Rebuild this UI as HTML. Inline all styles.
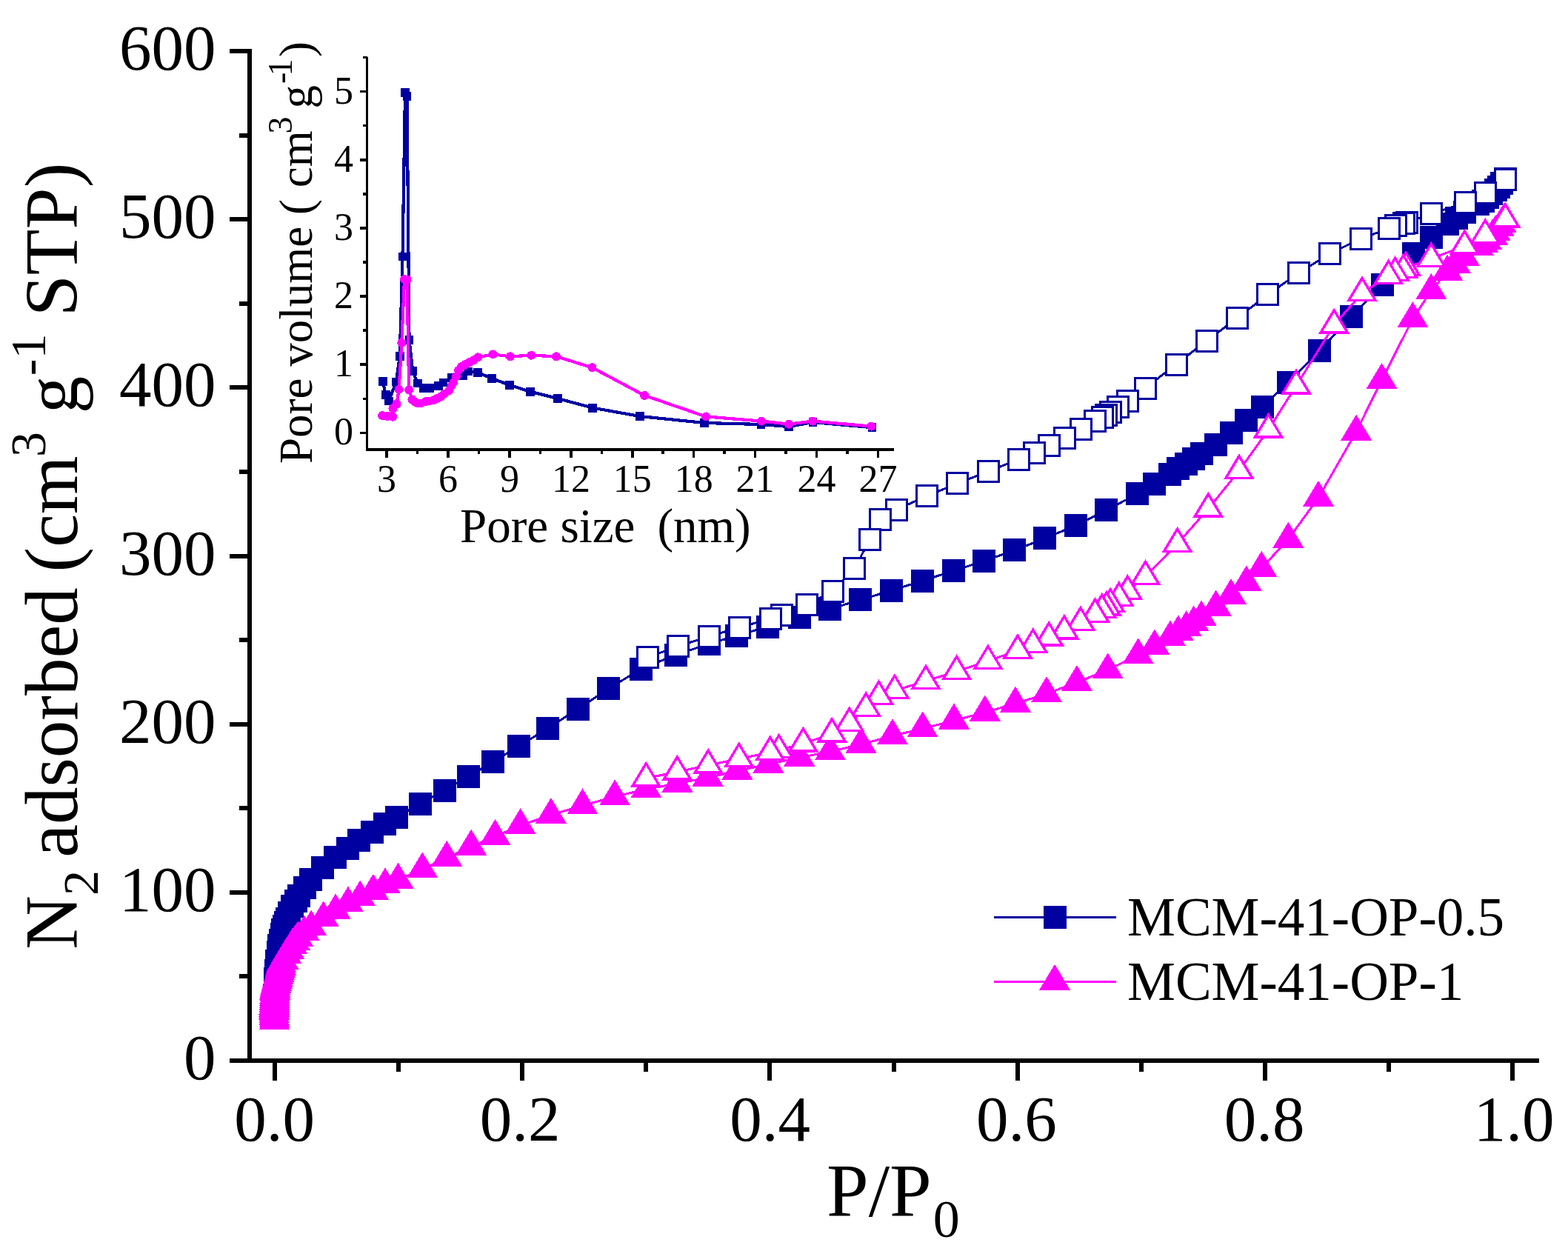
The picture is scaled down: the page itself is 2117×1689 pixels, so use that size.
<!DOCTYPE html>
<html><head><meta charset="utf-8"><title>N2 adsorption isotherms</title>
<style>html,body{margin:0;padding:0;background:#fff;}svg{display:block;}</style></head>
<body><svg width="2117" height="1689" viewBox="0 0 2117 1689" shape-rendering="crispEdges">
<rect width="2117" height="1689" fill="#fff"/>
<g stroke="#000" stroke-width="6" fill="none" stroke-linecap="butt">
<path d="M337 66V1435M334 1432H2078"/>
<path d="M310 1432H337"/>
<path d="M310 1204.8H337"/>
<path d="M310 977.7H337"/>
<path d="M310 750.5H337"/>
<path d="M310 523.3H337"/>
<path d="M310 296.1H337"/>
<path d="M310 69H337"/>
<path d="M323 1318.4H337"/>
<path d="M323 1091.2H337"/>
<path d="M323 864.1H337"/>
<path d="M323 636.9H337"/>
<path d="M323 409.7H337"/>
<path d="M323 182.6H337"/>
<path d="M371 1432V1459"/>
<path d="M538.1 1432V1447"/>
<path d="M705.2 1432V1459"/>
<path d="M872.3 1432V1447"/>
<path d="M1039.4 1432V1459"/>
<path d="M1206.5 1432V1447"/>
<path d="M1373.6 1432V1459"/>
<path d="M1540.7 1432V1447"/>
<path d="M1707.8 1432V1459"/>
<path d="M1874.9 1432V1447"/>
<path d="M2042 1432V1459"/>
</g>
<g font-family="'Liberation Serif','Times New Roman',serif" font-size="87" fill="#000">
<text x="291.5" y="1457" text-anchor="end">0</text>
<text x="291.5" y="1229.8" text-anchor="end">100</text>
<text x="291.5" y="1002.7" text-anchor="end">200</text>
<text x="291.5" y="775.5" text-anchor="end">300</text>
<text x="291.5" y="548.3" text-anchor="end">400</text>
<text x="291.5" y="321.1" text-anchor="end">500</text>
<text x="291.5" y="94" text-anchor="end">600</text>
<text x="370.5" y="1540" text-anchor="middle">0.0</text>
<text x="702" y="1540" text-anchor="middle">0.2</text>
<text x="1039.7" y="1540" text-anchor="middle">0.4</text>
<text x="1372.3" y="1540" text-anchor="middle">0.6</text>
<text x="1707" y="1540" text-anchor="middle">0.8</text>
<text x="2044" y="1540" text-anchor="middle">1.0</text>
</g>
<text font-family="'Liberation Serif','Times New Roman',serif" font-size="101" transform="translate(104 1282) rotate(-90)"><tspan x="0" y="0">N</tspan><tspan x="73" y="28" font-size="68">2</tspan><tspan x="124.2" y="0">adsorbed</tspan><tspan x="509.5" y="0">(cm</tspan><tspan x="665.1" y="-43" font-size="68">3</tspan><tspan x="723.8" y="0">g</tspan><tspan x="774.8" y="-43" font-size="68">-1</tspan><tspan x="854.7" y="0">STP)</tspan></text>
<text font-family="'Liberation Serif','Times New Roman',serif" font-size="102" x="1116" y="1642">P/P<tspan font-size="72" dx="2" dy="28">0</tspan></text>
<g stroke="#000" stroke-width="3.5" fill="none">
<path d="M495.5 77V608.7M493.8 607H1206.5"/>
<path d="M485.5 584.4H495.5"/>
<path d="M485.5 492.2H495.5"/>
<path d="M485.5 400.1H495.5"/>
<path d="M485.5 307.9H495.5"/>
<path d="M485.5 215.8H495.5"/>
<path d="M485.5 123.6H495.5"/>
<path d="M489.8 538.3H495.5"/>
<path d="M489.8 446.2H495.5"/>
<path d="M489.8 354H495.5"/>
<path d="M489.8 261.9H495.5"/>
<path d="M489.8 169.7H495.5"/>
<path d="M489.8 77.6H495.5"/>
<path d="M522.1 607V617.6"/>
<path d="M605 607V617.6"/>
<path d="M687.9 607V617.6"/>
<path d="M770.9 607V617.6"/>
<path d="M853.8 607V617.6"/>
<path d="M936.7 607V617.6"/>
<path d="M1019.6 607V617.6"/>
<path d="M1102.5 607V617.6"/>
<path d="M1185.5 607V617.6"/>
<path d="M563.6 607V612.5"/>
<path d="M646.5 607V612.5"/>
<path d="M729.4 607V612.5"/>
<path d="M812.3 607V612.5"/>
<path d="M895.2 607V612.5"/>
<path d="M978.2 607V612.5"/>
<path d="M1061.1 607V612.5"/>
<path d="M1144 607V612.5"/>
</g>
<g font-family="'Liberation Serif','Times New Roman',serif" font-size="52" fill="#000">
<text x="477" y="600.4" text-anchor="end">0</text>
<text x="477" y="508.2" text-anchor="end">1</text>
<text x="477" y="416.1" text-anchor="end">2</text>
<text x="477" y="323.9" text-anchor="end">3</text>
<text x="477" y="231.8" text-anchor="end">4</text>
<text x="477" y="139.6" text-anchor="end">5</text>
<text x="522.1" y="664" text-anchor="middle">3</text>
<text x="605" y="664" text-anchor="middle">6</text>
<text x="687.9" y="664" text-anchor="middle">9</text>
<text x="770.9" y="664" text-anchor="middle">12</text>
<text x="853.8" y="664" text-anchor="middle">15</text>
<text x="936.7" y="664" text-anchor="middle">18</text>
<text x="1019.6" y="664" text-anchor="middle">21</text>
<text x="1102.5" y="664" text-anchor="middle">24</text>
<text x="1185.5" y="664" text-anchor="middle">27</text>
</g>
<text font-family="'Liberation Serif','Times New Roman',serif" font-size="65" y="732" xml:space="preserve"><tspan x="621">Pore size</tspan><tspan x="887.4">(nm)</tspan></text>
<text font-family="'Liberation Serif','Times New Roman',serif" font-size="63" transform="translate(421 626) rotate(-90)" xml:space="preserve"><tspan x="0" y="0">Pore volume ( cm</tspan><tspan x="445.4" y="-27" font-size="46">3</tspan><tspan x="479.6" y="0">g</tspan><tspan x="513" y="-27" font-size="46">-</tspan><tspan x="523.4" y="-27" font-size="46">1</tspan><tspan x="548.9" y="0">)</tspan></text>
<path d="M516.9 515 L520.7 532.9 L525 541.5 L534.8 515.5 L539.8 481.2 L543.5 346.5 L547 125 L549.5 130.2 L552.5 459 L557.1 500.8 L563.8 517.5 L571.7 523.7 L580 524 L591.9 520.7 L598.4 516.4 L609.7 509.9 L624.8 507 L631.8 501.4 L644.6 502.7 L664.2 510.9 L687.9 519.9 L716.1 528.8 L753 538 L800 550.6 L863.9 562 L951.2 571 L1027.5 573 L1064.7 576 L1097.5 570 L1177.5 577.2" fill="none" stroke="#0000A0" stroke-width="4.2" stroke-linejoin="round"/>
<rect x="511" y="509.1" width="11.8" height="11.8" fill="#0000A0"/>
<rect x="514.8" y="527" width="11.8" height="11.8" fill="#0000A0"/>
<rect x="519.1" y="535.6" width="11.8" height="11.8" fill="#0000A0"/>
<rect x="528.9" y="509.6" width="11.8" height="11.8" fill="#0000A0"/>
<rect x="533.9" y="475.3" width="11.8" height="11.8" fill="#0000A0"/>
<rect x="537.6" y="340.6" width="11.8" height="11.8" fill="#0000A0"/>
<rect x="541.1" y="119.1" width="11.8" height="11.8" fill="#0000A0"/>
<rect x="543.6" y="124.3" width="11.8" height="11.8" fill="#0000A0"/>
<rect x="546.6" y="453.1" width="11.8" height="11.8" fill="#0000A0"/>
<rect x="551.2" y="494.9" width="11.8" height="11.8" fill="#0000A0"/>
<rect x="557.9" y="511.6" width="11.8" height="11.8" fill="#0000A0"/>
<rect x="565.8" y="517.8" width="11.8" height="11.8" fill="#0000A0"/>
<rect x="574.1" y="518.1" width="11.8" height="11.8" fill="#0000A0"/>
<rect x="586" y="514.8" width="11.8" height="11.8" fill="#0000A0"/>
<rect x="592.5" y="510.5" width="11.8" height="11.8" fill="#0000A0"/>
<rect x="603.8" y="504" width="11.8" height="11.8" fill="#0000A0"/>
<rect x="618.9" y="501.1" width="11.8" height="11.8" fill="#0000A0"/>
<rect x="625.9" y="495.5" width="11.8" height="11.8" fill="#0000A0"/>
<rect x="638.7" y="496.8" width="11.8" height="11.8" fill="#0000A0"/>
<rect x="658.3" y="505" width="11.8" height="11.8" fill="#0000A0"/>
<rect x="682" y="514" width="11.8" height="11.8" fill="#0000A0"/>
<rect x="710.2" y="522.9" width="11.8" height="11.8" fill="#0000A0"/>
<rect x="747.1" y="532.1" width="11.8" height="11.8" fill="#0000A0"/>
<rect x="794.1" y="544.7" width="11.8" height="11.8" fill="#0000A0"/>
<rect x="858" y="556.1" width="11.8" height="11.8" fill="#0000A0"/>
<rect x="945.3" y="565.1" width="11.8" height="11.8" fill="#0000A0"/>
<rect x="1021.6" y="567.1" width="11.8" height="11.8" fill="#0000A0"/>
<rect x="1058.8" y="570.1" width="11.8" height="11.8" fill="#0000A0"/>
<rect x="1091.6" y="564.1" width="11.8" height="11.8" fill="#0000A0"/>
<rect x="1171.6" y="571.3" width="11.8" height="11.8" fill="#0000A0"/>
<path d="M516.2 561.1 L523.2 561.9 L530.3 562.7 L530.5 551.5 L535.5 545.5 L538.6 525.8 L542.3 462.8 L546 377 L549.5 377.5 L552.2 526.2 L556.4 539.5 L560 542.5 L563.8 544.5 L568 544.5 L574.3 542.2 L579 541.5 L585.3 540.3 L590 538 L595.1 535.7 L600 531.5 L606.2 527.2 L609.5 521 L612.5 516 L616 508 L619 500 L623 495 L628.3 492 L634 489 L640 486 L645.3 482.3 L665.5 478.4 L688.9 481.3 L717.4 479.7 L751 481.3 L799.4 496.2 L870.1 533.9 L953.1 562.4 L1028.1 568.6 L1064.9 572.6 L1097.3 568.6 L1176.3 575.6" fill="none" stroke="#FF00FF" stroke-width="4.2" stroke-linejoin="round"/>
<circle cx="516.2" cy="561.1" r="6" fill="#FF00FF"/>
<circle cx="523.2" cy="561.9" r="6" fill="#FF00FF"/>
<circle cx="530.3" cy="562.7" r="6" fill="#FF00FF"/>
<circle cx="530.5" cy="551.5" r="6" fill="#FF00FF"/>
<circle cx="535.5" cy="545.5" r="6" fill="#FF00FF"/>
<circle cx="538.6" cy="525.8" r="6" fill="#FF00FF"/>
<circle cx="542.3" cy="462.8" r="6" fill="#FF00FF"/>
<circle cx="546" cy="377" r="6" fill="#FF00FF"/>
<circle cx="549.5" cy="377.5" r="6" fill="#FF00FF"/>
<circle cx="552.2" cy="526.2" r="6" fill="#FF00FF"/>
<circle cx="556.4" cy="539.5" r="6" fill="#FF00FF"/>
<circle cx="560" cy="542.5" r="6" fill="#FF00FF"/>
<circle cx="563.8" cy="544.5" r="6" fill="#FF00FF"/>
<circle cx="568" cy="544.5" r="6" fill="#FF00FF"/>
<circle cx="574.3" cy="542.2" r="6" fill="#FF00FF"/>
<circle cx="579" cy="541.5" r="6" fill="#FF00FF"/>
<circle cx="585.3" cy="540.3" r="6" fill="#FF00FF"/>
<circle cx="590" cy="538" r="6" fill="#FF00FF"/>
<circle cx="595.1" cy="535.7" r="6" fill="#FF00FF"/>
<circle cx="600" cy="531.5" r="6" fill="#FF00FF"/>
<circle cx="606.2" cy="527.2" r="6" fill="#FF00FF"/>
<circle cx="609.5" cy="521" r="6" fill="#FF00FF"/>
<circle cx="612.5" cy="516" r="6" fill="#FF00FF"/>
<circle cx="616" cy="508" r="6" fill="#FF00FF"/>
<circle cx="619" cy="500" r="6" fill="#FF00FF"/>
<circle cx="623" cy="495" r="6" fill="#FF00FF"/>
<circle cx="628.3" cy="492" r="6" fill="#FF00FF"/>
<circle cx="634" cy="489" r="6" fill="#FF00FF"/>
<circle cx="640" cy="486" r="6" fill="#FF00FF"/>
<circle cx="645.3" cy="482.3" r="6" fill="#FF00FF"/>
<circle cx="665.5" cy="478.4" r="6" fill="#FF00FF"/>
<circle cx="688.9" cy="481.3" r="6" fill="#FF00FF"/>
<circle cx="717.4" cy="479.7" r="6" fill="#FF00FF"/>
<circle cx="751" cy="481.3" r="6" fill="#FF00FF"/>
<circle cx="799.4" cy="496.2" r="6" fill="#FF00FF"/>
<circle cx="870.1" cy="533.9" r="6" fill="#FF00FF"/>
<circle cx="953.1" cy="562.4" r="6" fill="#FF00FF"/>
<circle cx="1028.1" cy="568.6" r="6" fill="#FF00FF"/>
<circle cx="1064.9" cy="572.6" r="6" fill="#FF00FF"/>
<circle cx="1097.3" cy="568.6" r="6" fill="#FF00FF"/>
<circle cx="1176.3" cy="575.6" r="6" fill="#FF00FF"/>
<path d="M370 1372 L370 1358 L370 1343 L371 1321 L372 1310 L373 1297 L375 1285 L376 1276 L378 1269 L380 1261 L381 1255.5 L383 1250 L385 1245 L387 1240 L390 1232 L394 1223 L399 1216 L403 1209 L411 1198 L419.6 1187.6 L435.7 1171.6 L452.3 1157.7 L469.4 1145.4 L484.6 1134.4 L502.5 1123 L519.4 1112.4 L535.6 1103 L567 1085 L600.4 1067 L632.9 1048.3 L665.8 1028.3 L700 1007.9 L739.3 983.3 L780.4 957.2 L821.9 929.4 L865.9 903.1 L912 884.3 L957.4 869.3 L994.1 858.4 L1036 846.3 L1079 833.4 L1120 822.3 L1161.6 809.9 L1203.6 797.2 L1245 784.3 L1287 770.8 L1328.6 757.4 L1369.9 742.9 L1410.9 726.8 L1452.9 709.2 L1493.5 688.8 L1535.5 666.9 L1558.2 653.5 L1579.6 640.5 L1590.6 632.9 L1601.3 626.4 L1611.6 619.5 L1622 612.6 L1641 600 L1662 584.5 L1682.4 567.2 L1704 549.5 L1739.6 516.4 L1781.4 473.5 L1824.4 427.7 L1866.5 384.3 L1908.6 342.8 L1932.3 320.3 L1954.5 302.1 L1966.7 294.4 L1977.3 286.7 L1995.7 275 L2002.1 271.2 L2008 266.4 L2013.3 261.6 L2019.6 256.8 L2023.4 252.4 L2027.7 247.2 L2032 241.9" fill="none" stroke="#0000A0" stroke-width="3" stroke-linejoin="round"/>
<g fill="#0000A0" stroke="#0000A0" stroke-width="3"><rect x="356" y="1358" width="28" height="28"/><rect x="356" y="1344" width="28" height="28"/><rect x="356" y="1329" width="28" height="28"/><rect x="357" y="1307" width="28" height="28"/><rect x="358" y="1296" width="28" height="28"/><rect x="359" y="1283" width="28" height="28"/><rect x="361" y="1271" width="28" height="28"/><rect x="362" y="1262" width="28" height="28"/><rect x="364" y="1255" width="28" height="28"/><rect x="366" y="1247" width="28" height="28"/><rect x="367" y="1241.5" width="28" height="28"/><rect x="369" y="1236" width="28" height="28"/><rect x="371" y="1231" width="28" height="28"/><rect x="373" y="1226" width="28" height="28"/><rect x="376" y="1218" width="28" height="28"/><rect x="380" y="1209" width="28" height="28"/><rect x="385" y="1202" width="28" height="28"/><rect x="389" y="1195" width="28" height="28"/><rect x="397" y="1184" width="28" height="28"/><rect x="405.6" y="1173.6" width="28" height="28"/><rect x="421.7" y="1157.6" width="28" height="28"/><rect x="438.3" y="1143.7" width="28" height="28"/><rect x="455.4" y="1131.4" width="28" height="28"/><rect x="470.6" y="1120.4" width="28" height="28"/><rect x="488.5" y="1109" width="28" height="28"/><rect x="505.4" y="1098.4" width="28" height="28"/><rect x="521.6" y="1089" width="28" height="28"/><rect x="553" y="1071" width="28" height="28"/><rect x="586.4" y="1053" width="28" height="28"/><rect x="618.9" y="1034.3" width="28" height="28"/><rect x="651.8" y="1014.3" width="28" height="28"/><rect x="686" y="993.9" width="28" height="28"/><rect x="725.3" y="969.3" width="28" height="28"/><rect x="766.4" y="943.2" width="28" height="28"/><rect x="807.9" y="915.4" width="28" height="28"/><rect x="851.9" y="889.1" width="28" height="28"/><rect x="898" y="870.3" width="28" height="28"/><rect x="943.4" y="855.3" width="28" height="28"/><rect x="980.1" y="844.4" width="28" height="28"/><rect x="1022" y="832.3" width="28" height="28"/><rect x="1065" y="819.4" width="28" height="28"/><rect x="1106" y="808.3" width="28" height="28"/><rect x="1147.6" y="795.9" width="28" height="28"/><rect x="1189.6" y="783.2" width="28" height="28"/><rect x="1231" y="770.3" width="28" height="28"/><rect x="1273" y="756.8" width="28" height="28"/><rect x="1314.6" y="743.4" width="28" height="28"/><rect x="1355.9" y="728.9" width="28" height="28"/><rect x="1396.9" y="712.8" width="28" height="28"/><rect x="1438.9" y="695.2" width="28" height="28"/><rect x="1479.5" y="674.8" width="28" height="28"/><rect x="1521.5" y="652.9" width="28" height="28"/><rect x="1544.2" y="639.5" width="28" height="28"/><rect x="1565.6" y="626.5" width="28" height="28"/><rect x="1576.6" y="618.9" width="28" height="28"/><rect x="1587.3" y="612.4" width="28" height="28"/><rect x="1597.6" y="605.5" width="28" height="28"/><rect x="1608" y="598.6" width="28" height="28"/><rect x="1627" y="586" width="28" height="28"/><rect x="1648" y="570.5" width="28" height="28"/><rect x="1668.4" y="553.2" width="28" height="28"/><rect x="1690" y="535.5" width="28" height="28"/><rect x="1725.6" y="502.4" width="28" height="28"/><rect x="1767.4" y="459.5" width="28" height="28"/><rect x="1810.4" y="413.7" width="28" height="28"/><rect x="1852.5" y="370.3" width="28" height="28"/><rect x="1894.6" y="328.8" width="28" height="28"/><rect x="1918.3" y="306.3" width="28" height="28"/><rect x="1940.5" y="288.1" width="28" height="28"/><rect x="1952.7" y="280.4" width="28" height="28"/><rect x="1963.3" y="272.7" width="28" height="28"/><rect x="1981.7" y="261" width="28" height="28"/><rect x="1988.1" y="257.2" width="28" height="28"/><rect x="1994" y="252.4" width="28" height="28"/><rect x="1999.3" y="247.6" width="28" height="28"/><rect x="2005.6" y="242.8" width="28" height="28"/><rect x="2009.4" y="238.4" width="28" height="28"/><rect x="2013.7" y="233.2" width="28" height="28"/><rect x="2018" y="227.9" width="28" height="28"/></g>
<path d="M2032.6 242.2 L2005.5 260.1 L1978.4 273.7 L1932.5 288.8 L1899.2 300 L1895.3 301.6 L1884.3 304.9 L1875.4 308.4 L1837.4 322.1 L1795.9 342.3 L1753.4 368.5 L1711.9 397.7 L1670.3 429.5 L1629.2 460 L1588 492 L1546 524 L1522 541 L1509.9 549.5 L1499.5 556 L1493.5 560 L1488.2 563 L1478.6 568.1 L1459.3 579.9 L1437.3 591.4 L1416.9 601.4 L1396.2 611.2 L1375.4 620 L1334.9 636.3 L1292.4 652.7 L1251 669.9 L1210 688.2 L1188 701.8 L1174.3 728.4 L1153.9 767.4 L1124 798.2 L1089 816.7 L1055 830.2 L1040.3 835 L998.9 847.2 L957.4 859.1 L915.8 872.4 L874.4 887.4" fill="none" stroke="#0000A0" stroke-width="3" stroke-linejoin="round"/>
<g fill="#fff" stroke="#0000A0" stroke-width="3"><rect x="2018.6" y="228.2" width="28" height="28"/><rect x="1991.5" y="246.1" width="28" height="28"/><rect x="1964.4" y="259.7" width="28" height="28"/><rect x="1918.5" y="274.8" width="28" height="28"/><rect x="1885.2" y="286" width="28" height="28"/><rect x="1881.3" y="287.6" width="28" height="28"/><rect x="1870.3" y="290.9" width="28" height="28"/><rect x="1861.4" y="294.4" width="28" height="28"/><rect x="1823.4" y="308.1" width="28" height="28"/><rect x="1781.9" y="328.3" width="28" height="28"/><rect x="1739.4" y="354.5" width="28" height="28"/><rect x="1697.9" y="383.7" width="28" height="28"/><rect x="1656.3" y="415.5" width="28" height="28"/><rect x="1615.2" y="446" width="28" height="28"/><rect x="1574" y="478" width="28" height="28"/><rect x="1532" y="510" width="28" height="28"/><rect x="1508" y="527" width="28" height="28"/><rect x="1495.9" y="535.5" width="28" height="28"/><rect x="1485.5" y="542" width="28" height="28"/><rect x="1479.5" y="546" width="28" height="28"/><rect x="1474.2" y="549" width="28" height="28"/><rect x="1464.6" y="554.1" width="28" height="28"/><rect x="1445.3" y="565.9" width="28" height="28"/><rect x="1423.3" y="577.4" width="28" height="28"/><rect x="1402.9" y="587.4" width="28" height="28"/><rect x="1382.2" y="597.2" width="28" height="28"/><rect x="1361.4" y="606" width="28" height="28"/><rect x="1320.9" y="622.3" width="28" height="28"/><rect x="1278.4" y="638.7" width="28" height="28"/><rect x="1237" y="655.9" width="28" height="28"/><rect x="1196" y="674.2" width="28" height="28"/><rect x="1174" y="687.8" width="28" height="28"/><rect x="1160.3" y="714.4" width="28" height="28"/><rect x="1139.9" y="753.4" width="28" height="28"/><rect x="1110" y="784.2" width="28" height="28"/><rect x="1075" y="802.7" width="28" height="28"/><rect x="1041" y="816.2" width="28" height="28"/><rect x="1026.3" y="821" width="28" height="28"/><rect x="984.9" y="833.2" width="28" height="28"/><rect x="943.4" y="845.1" width="28" height="28"/><rect x="901.8" y="858.4" width="28" height="28"/><rect x="860.4" y="873.4" width="28" height="28"/></g>
<path d="M370.5 1378.7 L370.4 1375.7 L370.2 1372.7 L370.1 1369.7 L370 1366.7 L370.1 1363.8 L370.2 1360.9 L370.3 1358.1 L370.4 1355.2 L370.5 1352.3 L370.6 1349.4 L370.8 1346.5 L370.9 1343.6 L371 1340.7 L371.2 1337.9 L371.5 1335.2 L371.7 1332.4 L372.6 1329.5 L373.4 1326.6 L374.3 1323.7 L375 1320.5 L375.6 1317.4 L376.6 1314.5 L377.6 1311.7 L378.2 1308.4 L378.9 1305 L379.5 1301.7 L382.8 1297.7 L386.4 1289.4 L390.6 1283.7 L394.5 1276.7 L398.4 1271.7 L402.3 1266.7 L410.8 1258.7 L420.2 1251.7 L436.7 1239.7 L453 1229.7 L470 1219.7 L486.2 1211.7 L504 1203 L520 1194.7 L537.5 1188 L570.3 1173.5 L603.2 1158.2 L636.2 1143 L668.5 1129.2 L702.6 1114.5 L743.9 1100.3 L786.5 1087.6 L830.1 1075.6 L872.4 1065.5 L914.4 1057.8 L955.7 1049.8 L995.4 1040.8 L1037.4 1031.9 L1079.3 1022.8 L1120.9 1014.7 L1162.5 1005 L1205 993.5 L1245.7 983.7 L1288 972.9 L1329.8 961.8 L1370.9 950 L1413 936.6 L1453.9 921.4 L1495.7 904.5 L1536.7 884.5 L1558.8 872.7 L1580.1 860.5 L1590.9 853.7 L1601.6 847.5 L1611.6 840.7 L1622 833.7 L1641.6 819.8 L1662 804.4 L1682.9 786.7 L1703.2 767.1 L1739.3 728.1 L1780 672.1 L1831.1 583 L1865.5 513.3 L1907.4 430.4 L1932.3 392.4 L1954.1 367 L1964.7 357 L1976.7 347 L1995.9 333.4 L2001.9 328.8 L2006.9 324.8 L2015 318.8 L2019 313.7 L2024 307.7 L2027 302.7 L2031 296.7" fill="none" stroke="#FF00FF" stroke-width="3" stroke-linejoin="round"/>
<g fill="#FF00FF" stroke="#FF00FF" stroke-width="3.4" stroke-linejoin="miter"><path d="M370.5 1358.7L388.5 1388.7H352.5Z"/><path d="M370.4 1355.7L388.4 1385.7H352.4Z"/><path d="M370.2 1352.7L388.2 1382.7H352.2Z"/><path d="M370.1 1349.7L388.1 1379.7H352.1Z"/><path d="M370 1346.7L388 1376.7H352Z"/><path d="M370.1 1343.8L388.1 1373.8H352.1Z"/><path d="M370.2 1340.9L388.2 1370.9H352.2Z"/><path d="M370.3 1338.1L388.3 1368.1H352.3Z"/><path d="M370.4 1335.2L388.4 1365.2H352.4Z"/><path d="M370.5 1332.3L388.5 1362.3H352.5Z"/><path d="M370.6 1329.4L388.6 1359.4H352.6Z"/><path d="M370.8 1326.5L388.8 1356.5H352.8Z"/><path d="M370.9 1323.6L388.9 1353.6H352.9Z"/><path d="M371 1320.7L389 1350.7H353Z"/><path d="M371.2 1317.9L389.2 1347.9H353.2Z"/><path d="M371.5 1315.2L389.5 1345.2H353.5Z"/><path d="M371.7 1312.4L389.7 1342.4H353.7Z"/><path d="M372.6 1309.5L390.6 1339.5H354.6Z"/><path d="M373.4 1306.6L391.4 1336.6H355.4Z"/><path d="M374.3 1303.7L392.3 1333.7H356.3Z"/><path d="M375 1300.5L393 1330.5H357Z"/><path d="M375.6 1297.4L393.6 1327.4H357.6Z"/><path d="M376.6 1294.5L394.6 1324.5H358.6Z"/><path d="M377.6 1291.7L395.6 1321.7H359.6Z"/><path d="M378.2 1288.4L396.2 1318.4H360.2Z"/><path d="M378.9 1285L396.9 1315H360.9Z"/><path d="M379.5 1281.7L397.5 1311.7H361.5Z"/><path d="M382.8 1277.7L400.8 1307.7H364.8Z"/><path d="M386.4 1269.4L404.4 1299.4H368.4Z"/><path d="M390.6 1263.7L408.6 1293.7H372.6Z"/><path d="M394.5 1256.7L412.5 1286.7H376.5Z"/><path d="M398.4 1251.7L416.4 1281.7H380.4Z"/><path d="M402.3 1246.7L420.3 1276.7H384.3Z"/><path d="M410.8 1238.7L428.8 1268.7H392.8Z"/><path d="M420.2 1231.7L438.2 1261.7H402.2Z"/><path d="M436.7 1219.7L454.7 1249.7H418.7Z"/><path d="M453 1209.7L471 1239.7H435Z"/><path d="M470 1199.7L488 1229.7H452Z"/><path d="M486.2 1191.7L504.2 1221.7H468.2Z"/><path d="M504 1183L522 1213H486Z"/><path d="M520 1174.7L538 1204.7H502Z"/><path d="M537.5 1168L555.5 1198H519.5Z"/><path d="M570.3 1153.5L588.3 1183.5H552.3Z"/><path d="M603.2 1138.2L621.2 1168.2H585.2Z"/><path d="M636.2 1123L654.2 1153H618.2Z"/><path d="M668.5 1109.2L686.5 1139.2H650.5Z"/><path d="M702.6 1094.5L720.6 1124.5H684.6Z"/><path d="M743.9 1080.3L761.9 1110.3H725.9Z"/><path d="M786.5 1067.6L804.5 1097.6H768.5Z"/><path d="M830.1 1055.6L848.1 1085.6H812.1Z"/><path d="M872.4 1045.5L890.4 1075.5H854.4Z"/><path d="M914.4 1037.8L932.4 1067.8H896.4Z"/><path d="M955.7 1029.8L973.7 1059.8H937.7Z"/><path d="M995.4 1020.8L1013.4 1050.8H977.4Z"/><path d="M1037.4 1011.9L1055.4 1041.9H1019.4Z"/><path d="M1079.3 1002.8L1097.3 1032.8H1061.3Z"/><path d="M1120.9 994.7L1138.9 1024.7H1102.9Z"/><path d="M1162.5 985L1180.5 1015H1144.5Z"/><path d="M1205 973.5L1223 1003.5H1187Z"/><path d="M1245.7 963.7L1263.7 993.7H1227.7Z"/><path d="M1288 952.9L1306 982.9H1270Z"/><path d="M1329.8 941.8L1347.8 971.8H1311.8Z"/><path d="M1370.9 930L1388.9 960H1352.9Z"/><path d="M1413 916.6L1431 946.6H1395Z"/><path d="M1453.9 901.4L1471.9 931.4H1435.9Z"/><path d="M1495.7 884.5L1513.7 914.5H1477.7Z"/><path d="M1536.7 864.5L1554.7 894.5H1518.7Z"/><path d="M1558.8 852.7L1576.8 882.7H1540.8Z"/><path d="M1580.1 840.5L1598.1 870.5H1562.1Z"/><path d="M1590.9 833.7L1608.9 863.7H1572.9Z"/><path d="M1601.6 827.5L1619.6 857.5H1583.6Z"/><path d="M1611.6 820.7L1629.6 850.7H1593.6Z"/><path d="M1622 813.7L1640 843.7H1604Z"/><path d="M1641.6 799.8L1659.6 829.8H1623.6Z"/><path d="M1662 784.4L1680 814.4H1644Z"/><path d="M1682.9 766.7L1700.9 796.7H1664.9Z"/><path d="M1703.2 747.1L1721.2 777.1H1685.2Z"/><path d="M1739.3 708.1L1757.3 738.1H1721.3Z"/><path d="M1780 652.1L1798 682.1H1762Z"/><path d="M1831.1 563L1849.1 593H1813.1Z"/><path d="M1865.5 493.3L1883.5 523.3H1847.5Z"/><path d="M1907.4 410.4L1925.4 440.4H1889.4Z"/><path d="M1932.3 372.4L1950.3 402.4H1914.3Z"/><path d="M1954.1 347L1972.1 377H1936.1Z"/><path d="M1964.7 337L1982.7 367H1946.7Z"/><path d="M1976.7 327L1994.7 357H1958.7Z"/><path d="M1995.9 313.4L2013.9 343.4H1977.9Z"/><path d="M2001.9 308.8L2019.9 338.8H1983.9Z"/><path d="M2006.9 304.8L2024.9 334.8H1988.9Z"/><path d="M2015 298.8L2033 328.8H1997Z"/><path d="M2019 293.7L2037 323.7H2001Z"/><path d="M2024 287.7L2042 317.7H2006Z"/><path d="M2027 282.7L2045 312.7H2009Z"/><path d="M2031 276.7L2049 306.7H2013Z"/></g>
<path d="M2032.5 296.1 L2005.3 317.2 L1977.4 332.1 L1932.3 349.2 L1898.2 361.5 L1894.7 364.6 L1883.6 368.6 L1874.6 372.6 L1839 395.6 L1801.2 438.8 L1750 520.9 L1712.6 580 L1672.9 635.7 L1631.3 687 L1589.6 734.2 L1546.5 778.3 L1522.4 798.3 L1510.8 807.3 L1499.3 815.7 L1493.9 819.9 L1487.7 823.4 L1478.5 829.4 L1458.9 840.6 L1436.9 852.1 L1416.2 861.1 L1394.7 870.2 L1374 878.2 L1333.9 892.5 L1291.6 906.4 L1250 919.5 L1208 932.3 L1186.5 940.4 L1169.2 956.2 L1146.8 976.5 L1123.2 990.9 L1084.4 1003.8 L1051.6 1012.7 L1039.8 1015.6 L997.8 1024.6 L956.2 1033.1 L914.3 1042.1 L872.3 1050.8" fill="none" stroke="#FF00FF" stroke-width="3" stroke-linejoin="round"/>
<g fill="#fff" stroke="#FF00FF" stroke-width="3.4" stroke-linejoin="miter"><path d="M2032.5 276.1L2050.5 306.1H2014.5Z"/><path d="M2005.3 297.2L2023.3 327.2H1987.3Z"/><path d="M1977.4 312.1L1995.4 342.1H1959.4Z"/><path d="M1932.3 329.2L1950.3 359.2H1914.3Z"/><path d="M1898.2 341.5L1916.2 371.5H1880.2Z"/><path d="M1894.7 344.6L1912.7 374.6H1876.7Z"/><path d="M1883.6 348.6L1901.6 378.6H1865.6Z"/><path d="M1874.6 352.6L1892.6 382.6H1856.6Z"/><path d="M1839 375.6L1857 405.6H1821Z"/><path d="M1801.2 418.8L1819.2 448.8H1783.2Z"/><path d="M1750 500.9L1768 530.9H1732Z"/><path d="M1712.6 560L1730.6 590H1694.6Z"/><path d="M1672.9 615.7L1690.9 645.7H1654.9Z"/><path d="M1631.3 667L1649.3 697H1613.3Z"/><path d="M1589.6 714.2L1607.6 744.2H1571.6Z"/><path d="M1546.5 758.3L1564.5 788.3H1528.5Z"/><path d="M1522.4 778.3L1540.4 808.3H1504.4Z"/><path d="M1510.8 787.3L1528.8 817.3H1492.8Z"/><path d="M1499.3 795.7L1517.3 825.7H1481.3Z"/><path d="M1493.9 799.9L1511.9 829.9H1475.9Z"/><path d="M1487.7 803.4L1505.7 833.4H1469.7Z"/><path d="M1478.5 809.4L1496.5 839.4H1460.5Z"/><path d="M1458.9 820.6L1476.9 850.6H1440.9Z"/><path d="M1436.9 832.1L1454.9 862.1H1418.9Z"/><path d="M1416.2 841.1L1434.2 871.1H1398.2Z"/><path d="M1394.7 850.2L1412.7 880.2H1376.7Z"/><path d="M1374 858.2L1392 888.2H1356Z"/><path d="M1333.9 872.5L1351.9 902.5H1315.9Z"/><path d="M1291.6 886.4L1309.6 916.4H1273.6Z"/><path d="M1250 899.5L1268 929.5H1232Z"/><path d="M1208 912.3L1226 942.3H1190Z"/><path d="M1186.5 920.4L1204.5 950.4H1168.5Z"/><path d="M1169.2 936.2L1187.2 966.2H1151.2Z"/><path d="M1146.8 956.5L1164.8 986.5H1128.8Z"/><path d="M1123.2 970.9L1141.2 1000.9H1105.2Z"/><path d="M1084.4 983.8L1102.4 1013.8H1066.4Z"/><path d="M1051.6 992.7L1069.6 1022.7H1033.6Z"/><path d="M1039.8 995.6L1057.8 1025.6H1021.8Z"/><path d="M997.8 1004.6L1015.8 1034.6H979.8Z"/><path d="M956.2 1013.1L974.2 1043.1H938.2Z"/><path d="M914.3 1022.1L932.3 1052.1H896.3Z"/><path d="M872.3 1030.8L890.3 1060.8H854.3Z"/></g>
<path d="M1342 1238.5H1507" stroke="#0000A0" stroke-width="3"/>
<rect x="1410.0" y="1224.5" width="28" height="28" fill="#0000A0" stroke="#0000A0" stroke-width="3"/>
<path d="M1342 1325.5H1507" stroke="#FF00FF" stroke-width="3"/>
<path d="M1424 1305.2L1442 1335.2H1406Z" fill="#FF00FF" stroke="#FF00FF" stroke-width="3.4"/>
<g font-family="'Liberation Serif','Times New Roman',serif" font-size="73" fill="#000"><text x="1522" y="1263">MCM-41-OP-0.5</text><text x="1522" y="1350">MCM-41-OP-1</text></g>
</svg></body></html>
